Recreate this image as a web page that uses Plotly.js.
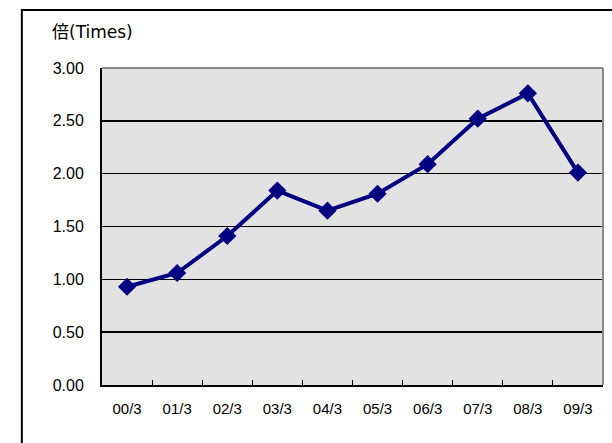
<!DOCTYPE html>
<html>
<head>
<meta charset="utf-8">
<script src="https://cdn.plot.ly/plotly-3.0.1.min.js"></script>
<style>
html,body{margin:0;padding:0;background:#fff;}
#chart{width:612px;height:443px;}
</style>
</head>
<body>
<div id="chart"></div>
<script>
const categories = ["00/3","01/3","02/3","03/3","04/3","05/3","06/3","07/3","08/3","09/3"];
const values = [0.93, 1.06, 1.41, 1.84, 1.65, 1.81, 2.09, 2.52, 2.76, 2.01];
const yTickVals = [0, 0.5, 1, 1.5, 2, 2.5, 3];
const yTickText = ["0.00","0.50","1.00","1.50","2.00","2.50","3.00"];
const unitLabel = "倍(Times)";

const FONT = "Arial, 'Liberation Sans', sans-serif";

const trace = {
  x: categories,
  y: values,
  type: "scatter",
  mode: "lines+markers",
  line: {color: "#000080", width: 4},
  marker: {symbol: "diamond", size: 14, color: "#000080"},
  cliponaxis: false,
  hoverinfo: "skip"
};

const layout = {
  width: 612, height: 443,
  margin: {l: 102, r: 9, t: 68, b: 58},
  paper_bgcolor: "#ffffff",
  plot_bgcolor: "#e2e2e2",
  showlegend: false,
  font: {family: FONT, color: "#000", size: 13},
  xaxis: {
    type: "category",
    tickson: "boundaries",
    ticks: "inside",
    ticklen: 5,
    tickwidth: 1,
    tickcolor: "#000",
    showline: true,
    linecolor: "#000",
    linewidth: 2,
    showgrid: false,
    ticklabelstandoff: 9,
    tickfont: {size: 15, family: FONT},
    range: [-0.5, 9.5],
    fixedrange: true
  },
  yaxis: {
    range: [0, 3],
    tickvals: yTickVals,
    ticktext: yTickText,
    showgrid: true,
    gridcolor: "#000",
    gridwidth: 1.5,
    showline: true,
    linecolor: "#000",
    linewidth: 2,
    ticks: "",
    zeroline: false,
    ticklabelstandoff: 13,
    tickfont: {size: 16, family: FONT},
    fixedrange: true
  },
  shapes: [
    {type: "line", xref: "paper", yref: "paper", x0: 0, x1: 1, y0: 1, y1: 1,
     line: {color: "#888", width: 2}, layer: "above"},
    {type: "line", xref: "paper", yref: "paper", x0: 1, x1: 1, y0: 0, y1: 1,
     line: {color: "#888", width: 2}, layer: "above"},
    {type: "rect", xref: "paper", yref: "paper", x0: -0.16, x1: 1.4, y0: -0.4, y1: 1.183,
     line: {color: "#000", width: 2}, layer: "below"}
  ],
  annotations: [
    {text: unitLabel, xref: "paper", yref: "paper", x: -0.103, y: 1.114,
     xanchor: "left", yanchor: "middle", showarrow: false,
     font: {size: 17, family: "'DejaVu Sans', 'Noto Sans CJK JP', sans-serif"}}
  ]
};

Plotly.newPlot("chart", [trace], layout, {displayModeBar: false, staticPlot: true});
</script>
</body>
</html>
